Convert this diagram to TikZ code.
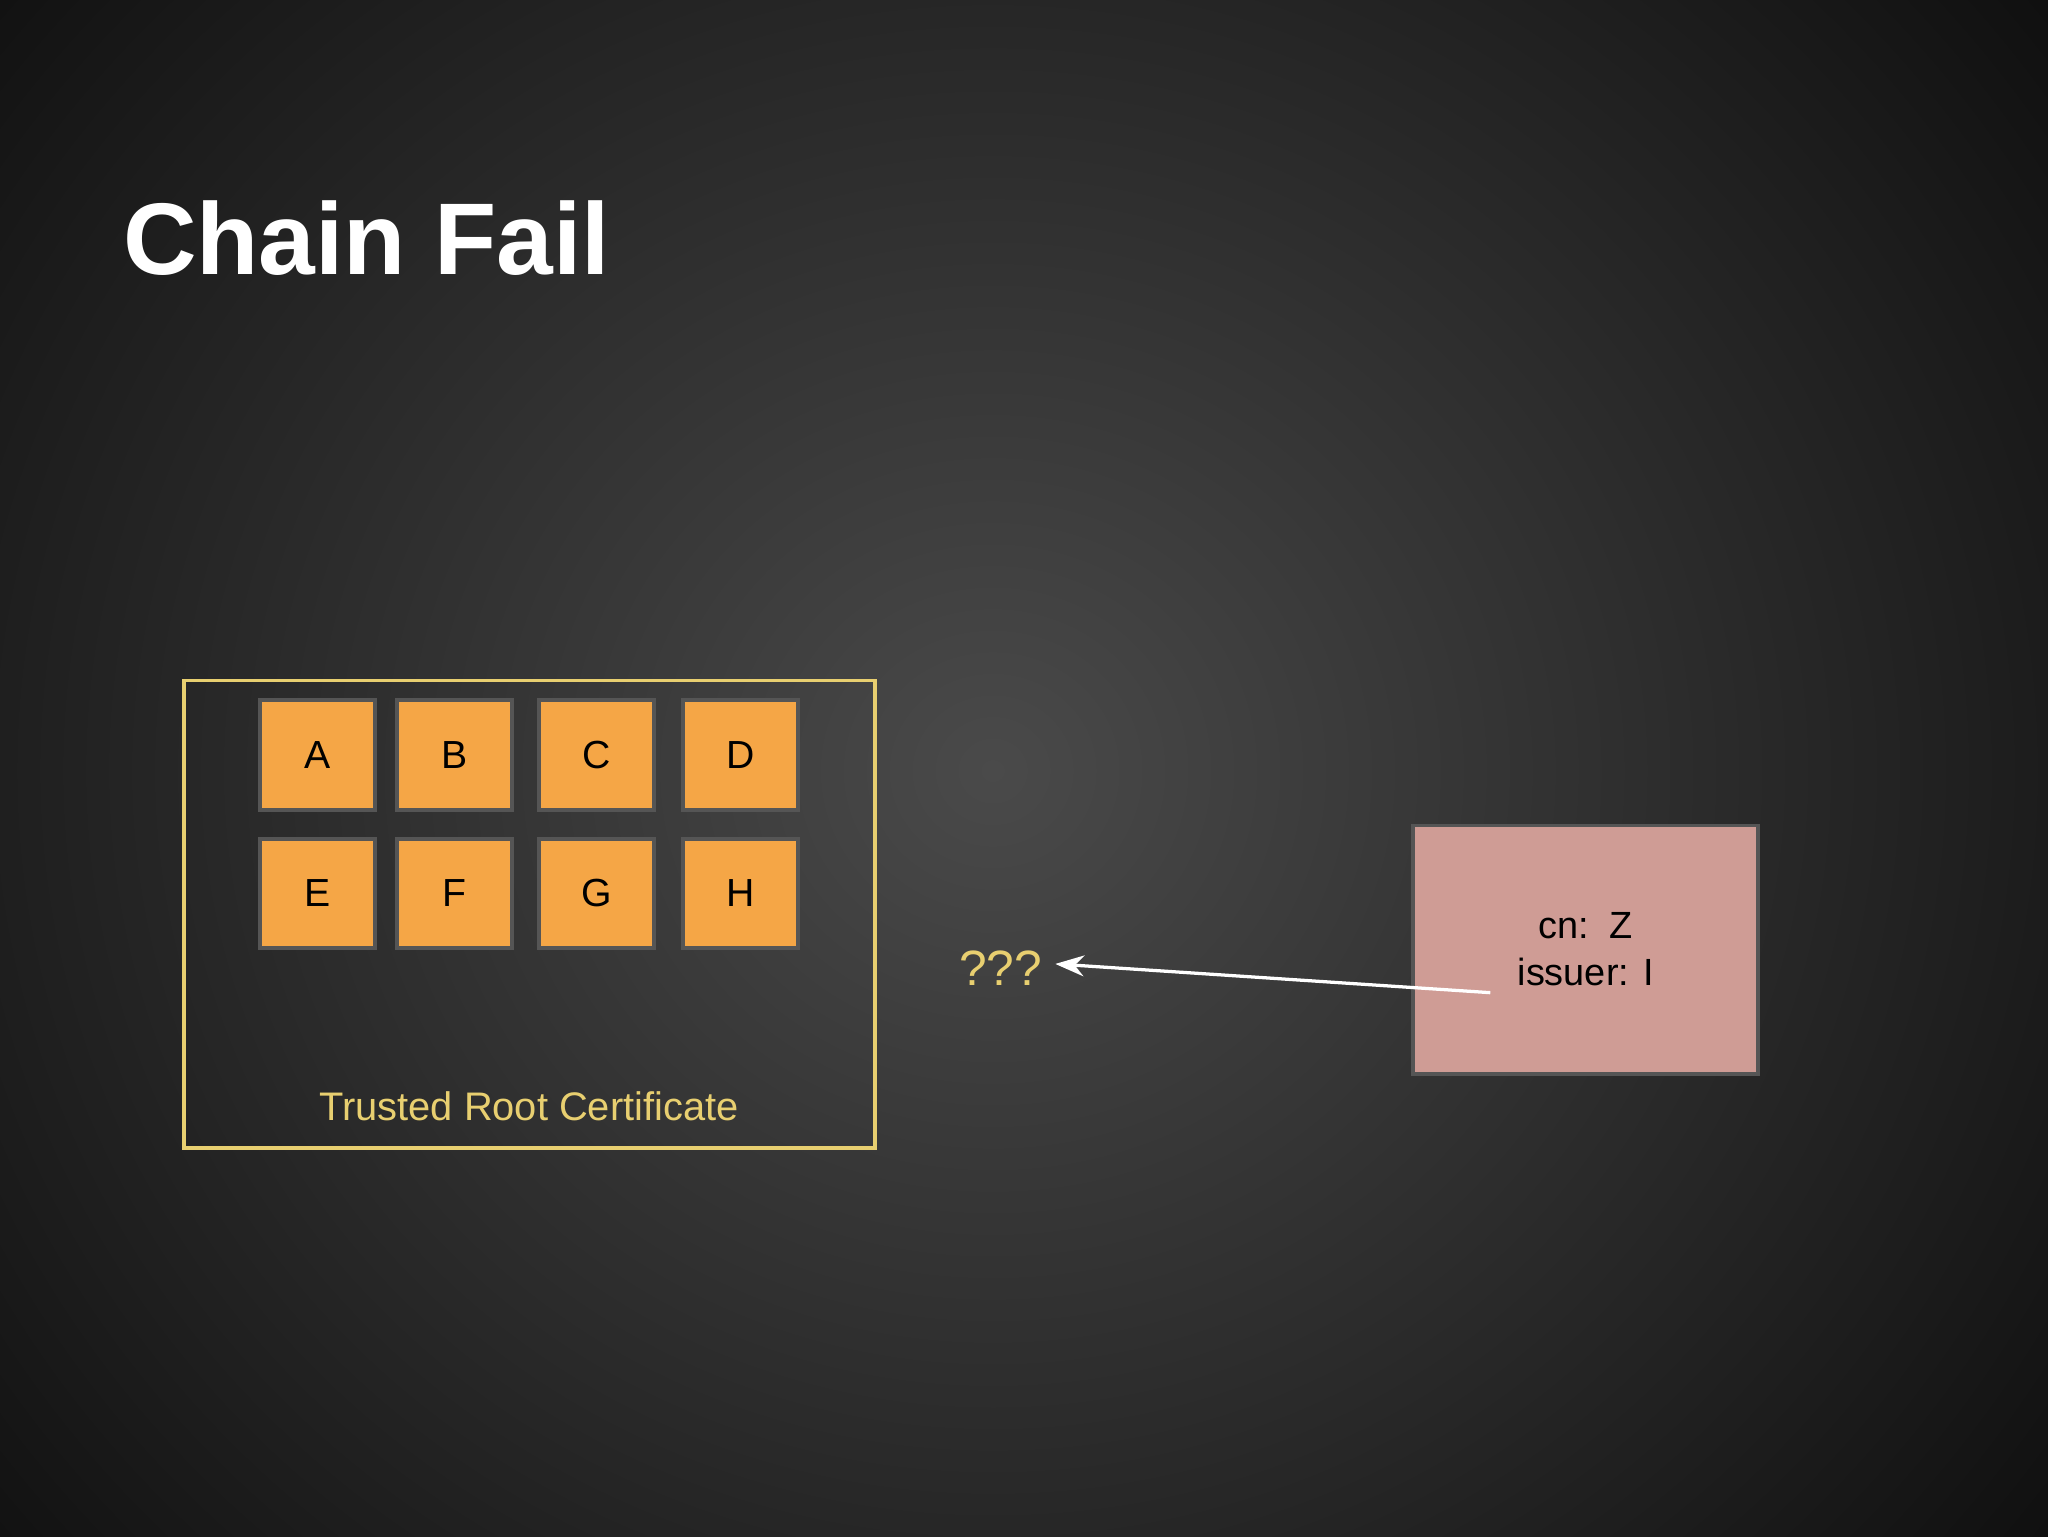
\documentclass[tikz,border=0pt]{standalone}
\usepackage{fontspec}
\setmainfont{Liberation Sans}
\usetikzlibrary{arrows.meta}
\definecolor{gold}{HTML}{E8CF70}
\definecolor{orng}{HTML}{F5A646}
\definecolor{pink}{HTML}{CF9C95}
\definecolor{edge}{HTML}{555555}
\tikzset{
  sq/.style={draw=edge, line width=3pt, fill=orng, minimum width=88pt, minimum height=84pt, inner sep=0pt, font=\fontsize{30}{34}\selectfont, text=black},
}
\begin{document}
\begin{tikzpicture}[x=1pt,y=-1pt]
\useasboundingbox (0,0) rectangle (1568,1176);
\shade[inner color={rgb,255:red,74;green,74;blue,74}, outer color={rgb,255:red,8;green,8;blue,8}] (-400,-500) rectangle (1920,1680);
\node[anchor=base west, text=white, font=\bfseries\fontsize{78}{90}\selectfont, inner sep=0pt] (title) at (94,210) {Chain Fail};
\draw[gold, line width=3pt] (141,521) rectangle (670,879);
\node[sq] (A) at (243,578) {A};
\node[sq] (B) at (348,578) {B};
\node[sq] (C) at (457,578) {C};
\node[sq] (D) at (567,578) {D};
\node[sq] (E) at (243,684) {E};
\node[sq] (F) at (348,684) {F};
\node[sq] (G) at (457,684) {G};
\node[sq] (H) at (567,684) {H};
\node[text=gold, font=\fontsize{30.5}{34}\selectfont] (trc) at (405,847) {Trusted Root Certificate};
\node[text=gold, font=\fontsize{38}{42}\selectfont, inner sep=0pt] (q) at (766,741) {???};
\node[draw=edge, line width=3pt, fill=pink, minimum width=264pt, minimum height=190pt, inner sep=0pt] (Z) at (1214,727) {};
\node[font=\fontsize{29}{36}\selectfont, align=center, text=black] (zt) at (1214,727) {cn:\ \ Z\\issuer: I};
\coordinate (s) at (1141,760);
\coordinate (e) at (808,738);
\draw[white, line width=2.5pt, -{Stealth[length=22pt,width=16pt]}] (s) -- (e);
\end{tikzpicture}
\end{document}
